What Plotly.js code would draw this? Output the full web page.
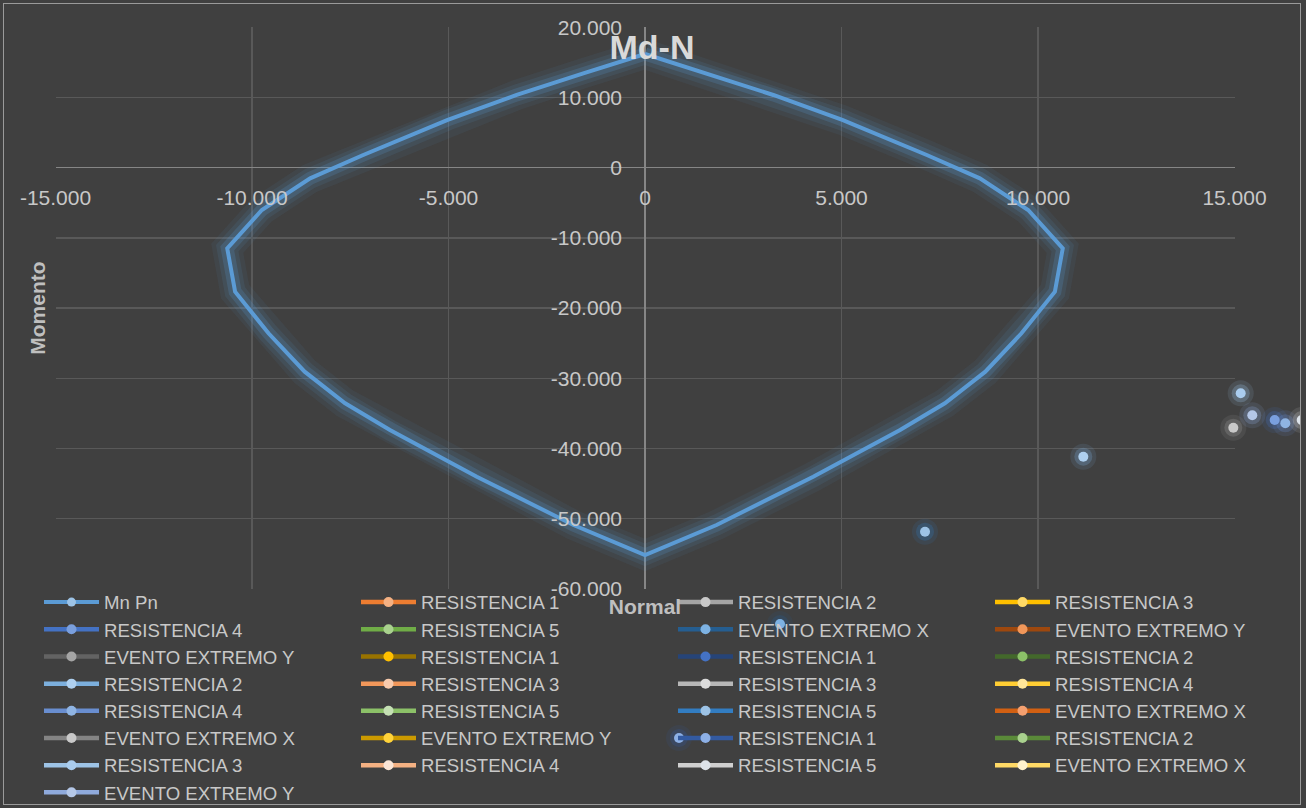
<!DOCTYPE html>
<html><head><meta charset="utf-8">
<script src="https://cdn.plot.ly/plotly-3.0.1.min.js"></script>
<style>
html,body{margin:0;padding:0;background:#404040;width:1306px;height:808px;overflow:hidden}
#frame{position:absolute;left:3px;top:3px;width:1298px;height:802px;box-sizing:border-box;border:1px solid #9a9a9a;pointer-events:none}
#wrap{position:absolute;left:4px;top:4px;width:1296px;height:800px;overflow:hidden}
#chart{position:absolute;left:0;top:0;width:1310px;height:800px}
</style></head><body>
<div id="wrap"><div id="chart"></div></div><div id="frame"></div>
<script>
// Interaction curve (Mn Pn)
const mnX = [0, 1570, 3265, 5020, 7170, 8520, 9750, 10630, 10430, 9580, 8660, 7630, 6490, 4280, 1820, 0,
             -1820, -4280, -6490, -7630, -8660, -9580, -10430, -10630, -9750, -8520, -7170, -5020, -3265, -1570, 0];
const mnY = [16200, 13450, 10360, 6800, 1810, -1510, -6030, -11480, -17660, -23590, -29060, -33560, -37370, -44020, -50900, -55170,
             -50900, -44020, -37370, -33560, -29060, -23590, -17660, -11480, -6030, -1510, 1810, 6800, 10360, 13450, 16200];

// Load combination series
const seriesNames = ['RESISTENCIA 1','RESISTENCIA 2','RESISTENCIA 3','RESISTENCIA 4','RESISTENCIA 5','EVENTO EXTREMO X','EVENTO EXTREMO Y',
  'EVENTO EXTREMO Y','RESISTENCIA 1','RESISTENCIA 1','RESISTENCIA 2','RESISTENCIA 2','RESISTENCIA 3','RESISTENCIA 3','RESISTENCIA 4',
  'RESISTENCIA 4','RESISTENCIA 5','RESISTENCIA 5','EVENTO EXTREMO X','EVENTO EXTREMO X','EVENTO EXTREMO Y','RESISTENCIA 1','RESISTENCIA 2',
  'RESISTENCIA 3','RESISTENCIA 4','RESISTENCIA 5','EVENTO EXTREMO X','EVENTO EXTREMO Y'];
const lineColors = ['#ED7D31','#A5A5A5','#FFC000','#4472C4','#70AD47','#255E91','#9E480E',
  '#636363','#997300','#264478','#43682B','#7CAFDD','#F1975A','#B7B7B7','#FFCD33',
  '#698ED0','#8CC168','#327DC2','#D26012','#848484','#CC9A00','#335AA1','#5A8A39',
  '#9DC3E6','#F4B183','#CFCFCF','#FFD966','#8FAADC'];
const markerColors = ['#F4B183','#C9C9C9','#FFD966','#7A9FDD','#A9D18E','#7DB2E3','#F1975A',
  '#A5A5A5','#FFC000','#4472C4','#8CC168','#AED0F0','#F8CBAD','#DBDBDB','#FFE699',
  '#8FB4E3','#C5E0B4','#9DC3E6','#F4A070','#C9C9C9','#FFD33A','#8DB0E6','#A9D18E',
  '#A9CCEE','#FBE5D6','#DDE3EA','#FFF2CC','#B4C7E7'];

// Visible load points (series index, Normal, Momento)
const pointSeries = [1, 3, 5, 11, 15, 17, 21, 23, 25, 27];
const pointX = [14970, 16023, 3435, 11153, 16293, 7125, 865, 15158, 16710, 15453];
const pointY = [-37037, -35940, -65000, -41168, -36410, -51852, -81240, -32137, -35940, -35271];

// Axis ticks
const xTickVals = [-15000, -10000, -5000, 0, 5000, 10000, 15000];
const xTickText = ['-15.000', '-10.000', '-5.000', '0', '5.000', '10.000', '15.000'];
const yTickVals = [20000, 10000, 0, -10000, -20000, -30000, -40000, -50000, -60000];
const yTickText = ['20.000', '10.000', '0', '-10.000', '-20.000', '-30.000', '-40.000', '-50.000', '-60.000'];
const xRange = [-15000, 15000];
const yRange = [-60000, 20000];

// pixel layout of the figure
const W = 1310, H = 800;
const L = 51.5, R = 1230.5, T = 23.3, B = 584.9;
const sx = (xRange[1] - xRange[0]) / (R - L);
const sy = (yRange[1] - yRange[0]) / (B - T);
const x2Range = [xRange[0] - L * sx, xRange[1] + (W - R) * sx];
const y2Range = [yRange[0] - (H - B) * sy, yRange[1] + T * sy];
const yDom = [1 - B / H, 1 - T / H];
const xDom = [L / W, R / W];

const traces = [];
// glow of curve
[[30, 0.07], [21, 0.11], [13, 0.2]].forEach(([w, o]) => traces.push({
  type: 'scatter', mode: 'lines', x: mnX, y: mnY, line: {color: '#5B9BD5', width: w},
  opacity: o, showlegend: false, hoverinfo: 'skip'}));
traces.push({type: 'scatter', mode: 'lines', x: mnX, y: mnY, line: {color: '#5B9BD5', width: 4},
  showlegend: false, hoverinfo: 'skip'});
// glow of points
pointX.forEach((px, i) => {
  const s = pointSeries[i];
  [[26, 0.12], [18, 0.25]].forEach(([sz, o]) => traces.push({
    type: 'scatter', mode: 'markers', x: [px], y: [pointY[i]], xaxis: 'x2', yaxis: 'y2',
    marker: {size: sz, color: lineColors[s], line: {width: 0}}, opacity: o,
    showlegend: false, hoverinfo: 'skip'}));
});
// legend entry of the curve
traces.push({type: 'scatter', mode: 'lines+markers', name: 'Mn Pn', x: [null], y: [null],
  line: {color: '#5B9BD5', width: 4}, marker: {color: '#9DC3E6', size: 9}});
seriesNames.forEach((n, s) => {
  const xs = [], ys = [];
  pointSeries.forEach((ps, i) => { if (ps === s) { xs.push(pointX[i]); ys.push(pointY[i]); } });
  if (!xs.length) { xs.push(null); ys.push(null); }
  traces.push({type: 'scatter', mode: 'lines+markers', name: n, x: xs, y: ys, xaxis: 'x2', yaxis: 'y2',
    line: {color: lineColors[s], width: 4.5}, marker: {color: markerColors[s], size: 10, line: {width: 0}}});
});

const fam = 'Liberation Sans, Arial, sans-serif';
const tickFont = {family: fam, size: 21, color: '#c8c8c8'};
const layout = {
  width: W, height: H,
  paper_bgcolor: '#404040', plot_bgcolor: 'rgba(0,0,0,0)',
  margin: {l: 0, r: 0, t: 0, b: 0, pad: 0, autoexpand: false},
  hovermode: false,
  showlegend: true,
  title: {text: 'Md-N', x: 648 / W, xref: 'container', xanchor: 'center', y: 1 - 43 / H, yref: 'container', yanchor: 'middle',
    font: {family: fam, size: 34, color: '#d9d9d9', weight: 'bold'}},
  xaxis: {domain: xDom, range: xRange, tickmode: 'array', tickvals: xTickVals, ticktext: xTickText,
    anchor: 'free', position: yDom[0] + (0 - yRange[0]) / (yRange[1] - yRange[0]) * (yDom[1] - yDom[0]),
    showgrid: true, gridcolor: '#595959', gridwidth: 1.3,
    zeroline: true, zerolinecolor: '#868686', zerolinewidth: 1.5, showline: false, ticks: '',
    ticklabelstandoff: 15, tickfont: tickFont, fixedrange: true,
    title: {text: 'Normal', standoff: 391, font: {family: fam, size: 21, color: '#bfbfbf', weight: 'bold'}}},
  yaxis: {domain: yDom, range: yRange, tickmode: 'array', tickvals: yTickVals, ticktext: yTickText,
    anchor: 'free', position: xDom[0] + (0 - xRange[0]) / (xRange[1] - xRange[0]) * (xDom[1] - xDom[0]),
    showgrid: true, gridcolor: '#595959', gridwidth: 1.3,
    zeroline: true, zerolinecolor: '#868686', zerolinewidth: 1.5, showline: false, ticks: '',
    ticklabelstandoff: 23, tickfont: tickFont, fixedrange: true,
    title: {text: 'Momento', standoff: 498, font: {family: fam, size: 21, color: '#bfbfbf', weight: 'bold'}}},
  xaxis2: {domain: [0, 1], range: x2Range, anchor: 'y2', visible: false, fixedrange: true},
  yaxis2: {domain: [0, 1], range: y2Range, anchor: 'x2', visible: false, fixedrange: true},
  legend: {orientation: 'h', x: 35 / W, xanchor: 'left', y: 1 - 579.5 / H, yanchor: 'top',
    entrywidth: 247, entrywidthmode: 'pixels', bgcolor: 'rgba(0,0,0,0)', itemwidth: 55,
    font: {family: fam, size: 18.6, color: '#c8c8c8'}}
};
Plotly.newPlot('chart', traces, layout, {staticPlot: true, displayModeBar: false});
</script>
</body></html>
